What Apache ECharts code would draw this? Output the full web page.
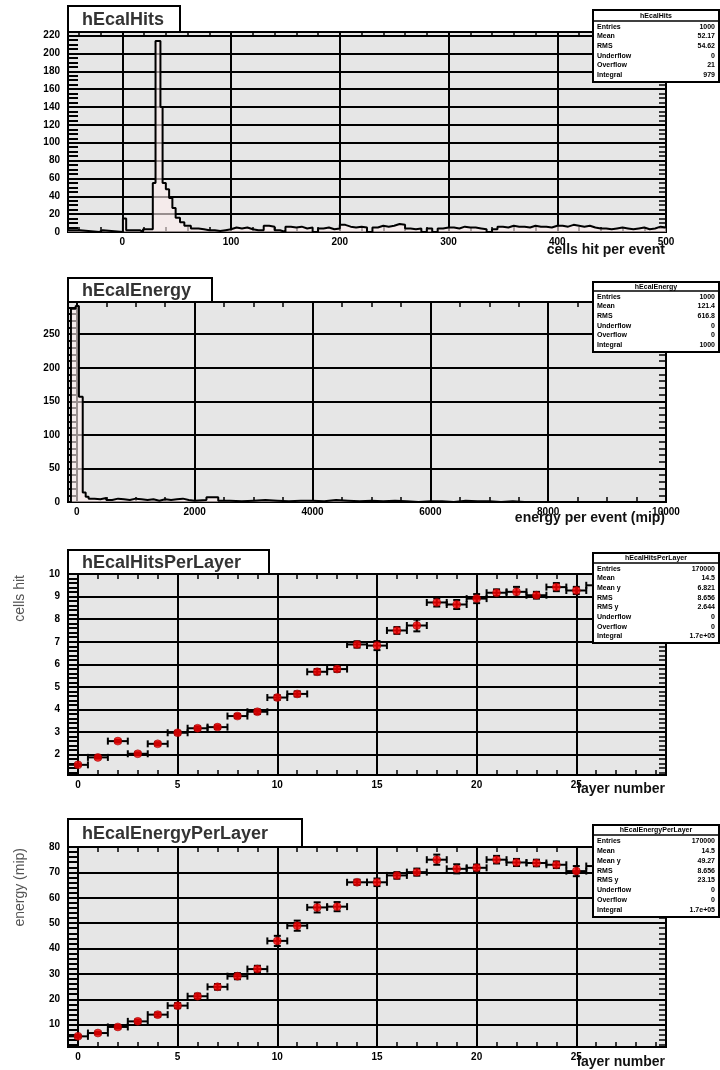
<!DOCTYPE html>
<html><head><meta charset="utf-8">
<script src="https://cdn.jsdelivr.net/npm/echarts@6/dist/echarts.min.js"></script>
<style>html,body{margin:0;padding:0;background:#fff}#c{width:720px;height:1070px}</style>
</head><body><div id="c"></div><script>
// ---------- DATA ----------
// Panel 1: hEcalHits (irregular head bins, regular tail bins)
const hitsHeadEdges  = [-50,-39,-21,-18,0.5,3.5,16,19,28,30.5,35,37,40,43,46,49,53,57,63,70];
const hitsHeadCounts = [2,0,2,0,15,2,0,3,55,214,140,55,48,38,27,16,11,7,4];
const hitsTailStart = 70, hitsTailWidth = 5;
const hitsTailCounts = [3,2,2,1, 2,3,5,4,5,3,2,2, 7,6,2,0, 6,5,6,4,5,0,4,5,3,4, 8,6,5,6, 5,0,5,7,6,7,9,8,
  4,3,4,0,4,0,4,5, 5,4,6,5,5,4,3,0, 3,6,5,7,6,6,5,7,6,6,5,7, 7,6,8,7,6,7,5,4, 4,3,4,5,4,3,4,5,3,4,6,5];
const hitsXTicks = [0,100,200,300,400,500];
const hitsYTicks = [0,20,40,60,80,100,120,140,160,180,200,220];

// Panel 2: hEcalEnergy
const energyHeadEdges  = [-150,-100,-20,35,100,150,200];
const energyHeadCounts = [0,288,292,157,14,8];
const energyTail1 = {start:200,  width:100,  counts:[5,4,6,3,5,4,3,5,4,3,4,2,4,3,4,5,3,2]};
const energyTail2 = {start:2000, width:200,  counts:[3,7,2,1,2,3,2,1,2,2,1,3,2,1,2]};
const energyTail3 = {start:5000, width:200,  counts:[1,2,1,0,1,1,0,2,1,1,0,1,0]};
const energyTail4 = {start:7600, width:2400, counts:[0]};
const energyXTicks = [0,2000,4000,6000,8000,10000];
const energyYTicks = [0,50,100,150,200,250];

// Panels 3/4: per layer
const layers = [0,1,2,3,4,5,6,7,8,9,10,11,12,13,14,15,16,17,18,19,20,21,22,23,24,25,26,27,28,29];
const hitsPerLayer    = [1.55,1.88,2.6,2.04,2.48,2.97,3.17,3.22,3.71,3.9,4.53,4.69,5.67,5.79,6.88,6.83,7.5,7.72,8.74,8.65,8.91,9.17,9.21,9.06,9.42,9.27,9.5,9.35,9.5,9.45];
const hitsPerLayerErr = [0.05,0.05,0.06,0.06,0.07,0.08,0.08,0.08,0.09,0.1,0.1,0.11,0.12,0.12,0.14,0.2,0.15,0.26,0.18,0.2,0.2,0.15,0.22,0.15,0.18,0.16,0.2,0.2,0.2,0.2];
const energyPerLayer    = [5.4,6.7,9.1,11.3,13.95,17.5,21.2,24.9,29.1,31.9,43,49,56.2,56.5,66.1,66.1,68.8,70.1,75,71.4,71.8,75,73.9,73.7,73,70.5,72.5,71,72.5,71.5];
const energyPerLayerErr = [0.5,0.5,0.6,0.7,0.8,1.0,1.0,1.1,1.2,1.3,2.0,2.0,2.0,1.8,1.0,1.5,1.3,1.4,2.0,1.8,1.3,1.5,1.4,1.3,1.3,2.0,1.3,1.3,1.3,1.3];
const layerXTicks = [0,5,10,15,20,25];
const layerHitsYTicks = [2,3,4,5,6,7,8,9,10];
const layerEnergyYTicks = [10,20,30,40,50,60,70,80];

// Stats boxes
const statsLabels1 = ['Entries','Mean','RMS','Underflow','Overflow','Integral'];
const statsLabels2 = ['Entries','Mean','Mean y','RMS','RMS y','Underflow','Overflow','Integral'];
const statsHits = ['1000','52.17','54.62','0','21','979'];
const statsEnergy = ['1000','121.4','616.8','0','0','1000'];
const statsHitsPL = ['170000','14.5','6.821','8.656','2.644','0','0','1.7e+05'];
const statsEnergyPL = ['170000','14.5','49.27','8.656','23.15','0','0','1.7e+05'];

// ---------- BUILD ----------
function histPoints(edges, counts) {
  const pts = [];
  for (let i = 0; i < counts.length; i++) pts.push([edges[i], counts[i]]);
  pts.push([edges[counts.length], counts[counts.length - 1]]);
  return pts;
}
function appendSeg(edges, counts, seg) {
  edges.pop();
  for (let i = 0; i < seg.counts.length; i++) { edges.push(seg.start + i * seg.width); counts.push(seg.counts[i]); }
  edges.push(seg.start + seg.counts.length * seg.width);
}
const hE = hitsHeadEdges.slice(), hC = hitsHeadCounts.slice();
appendSeg(hE, hC, {start: hitsTailStart, width: hitsTailWidth, counts: hitsTailCounts});
const eE = energyHeadEdges.slice(), eC = energyHeadCounts.slice();
[energyTail1, energyTail2, energyTail3, energyTail4].forEach(s => appendSeg(eE, eC, s));

function steps(a, b, st) { const r = []; for (let v = a; v <= b + 1e-9; v += st) r.push(Math.round(v * 1000) / 1000); return r; }

const FONT = 'Liberation Sans';
const AX = {color: '#000', width: 2};
const TK = {color: '#000', width: 1.5};
const LBL = {color: '#000', fontSize: 10, fontWeight: 'bold', fontFamily: FONT, formatter: v => String(v)};
const xAxes = [], yAxes = [];
function addX(g, min, max, majors, minors) {
  xAxes.push({gridIndex: g, type: 'value', min, max, position: 'bottom',
    axisLine: {show: true, onZero: false, lineStyle: AX},
    axisTick: {show: true, inside: true, length: 10, customValues: majors, lineStyle: AX},
    axisLabel: Object.assign({show: true, customValues: majors, margin: 5}, LBL),
    splitLine: {show: true, lineStyle: {color: '#000', width: 2}}});
  xAxes.push({gridIndex: g, type: 'value', min, max, position: 'bottom',
    axisLine: {show: false, onZero: false},
    axisTick: {show: true, inside: true, length: 5, customValues: minors, lineStyle: TK},
    axisLabel: {show: false}, splitLine: {show: false}});
  xAxes.push({gridIndex: g, type: 'value', min, max, position: 'top',
    axisLine: {show: true, onZero: false, lineStyle: AX},
    axisTick: {show: true, inside: true, length: 5, customValues: minors.concat(majors), lineStyle: TK},
    axisLabel: {show: false}, splitLine: {show: false}});
}
function addY(g, min, max, majors, minors) {
  yAxes.push({gridIndex: g, type: 'value', min, max, position: 'left',
    axisLine: {show: true, onZero: false, lineStyle: AX},
    axisTick: {show: true, inside: true, length: 12, customValues: majors, lineStyle: AX},
    axisLabel: Object.assign({show: true, customValues: majors, margin: 8}, LBL),
    splitLine: {show: true, lineStyle: {color: '#000', width: 2}}});
  yAxes.push({gridIndex: g, type: 'value', min, max, position: 'left',
    axisLine: {show: false, onZero: false},
    axisTick: {show: true, inside: true, length: 10, customValues: minors, lineStyle: AX},
    axisLabel: {show: false}, splitLine: {show: false}});
  yAxes.push({gridIndex: g, type: 'value', min, max, position: 'right',
    axisLine: {show: true, onZero: false, lineStyle: AX},
    axisTick: {show: true, inside: true, length: 7, customValues: minors.concat(majors), lineStyle: TK},
    axisLabel: {show: false}, splitLine: {show: false}});
}
addX(0, -50, 500, hitsXTicks, steps(-40, 500, 20));
addY(0, 0, 224, hitsYTicks, steps(0, 224, 5));
addX(1, -150, 10000, energyXTicks, steps(0, 10000, 500));
addY(1, 0, 298, energyYTicks, steps(0, 298, 10));
addX(2, -0.5, 29.5, layerXTicks, steps(0, 29, 1));
addY(2, 1.1, 10, layerHitsYTicks, steps(1.2, 10, 0.2));
addX(3, -0.5, 29.5, layerXTicks, steps(0, 29, 1));
addY(3, 1.2, 80, layerEnergyYTicks, steps(2, 80, 2));

const gridBase = {left: 68, width: 598, show: true, backgroundColor: '#e6e6e6', borderColor: '#000', borderWidth: 2};
const grids = [
  Object.assign({top: 32, height: 200}, gridBase),
  Object.assign({top: 302, height: 200}, gridBase),
  Object.assign({top: 574, height: 201}, gridBase),
  Object.assign({top: 847, height: 200}, gridBase)
];

function errRender(params, api) {
  const x = api.value(0), y = api.value(1), ex = api.value(2), ey = api.value(3);
  const L = api.coord([x - ex, y]), R = api.coord([x + ex, y]);
  const T = api.coord([x, y + ey]), B = api.coord([x, y - ey]);
  const c = 3.5, st = {stroke: '#000', lineWidth: 2};
  const ln = (x1, y1, x2, y2) => ({type: 'line', shape: {x1, y1, x2, y2}, style: st});
  return {type: 'group', children: [
    ln(L[0], L[1], R[0], R[1]), ln(L[0], L[1] - c, L[0], L[1] + c), ln(R[0], R[1] - c, R[0], R[1] + c),
    ln(T[0], T[1], B[0], B[1]), ln(T[0] - c, T[1], T[0] + c, T[1]), ln(B[0] - c, B[1], B[0] + c, B[1])
  ]};
}
function layerSeries(g, vals, errs) {
  return [
    {type: 'custom', xAxisIndex: 3 * g, yAxisIndex: 3 * g, z: 2, clip: true,
     dimensions: ['x', 'y', 'ex', 'ey'], encode: {x: 0, y: 1},
     data: layers.map((l, i) => [l, vals[i], 0.5, errs[i]]), renderItem: errRender},
    {type: 'scatter', xAxisIndex: 3 * g, yAxisIndex: 3 * g, z: 3, symbol: 'circle', symbolSize: 8,
     itemStyle: {color: '#ff0000', borderColor: '#8a0000', borderWidth: 0.6},
     data: layers.map((l, i) => [l, vals[i]])}
  ];
}
function histSeries(g, pts) {
  return {type: 'line', xAxisIndex: 3 * g, yAxisIndex: 3 * g, step: 'end', symbol: 'none', z: 2, clip: true,
    lineStyle: {color: '#000', width: 2}, areaStyle: {color: 'rgba(255,238,238,0.85)'}, data: pts};
}

// ---------- GRAPHICS (titles, stats, axis titles) ----------
const G = [];
function rect(x, y, w, h) { G.push({type: 'rect', z: 100, shape: {x, y, width: w, height: h}, style: {fill: '#fff', stroke: '#000', lineWidth: 2}}); }
function txt(x, y, t, font, align, fill, rot) {
  G.push({type: 'text', z: 101, x, y, rotation: rot || 0,
    style: {text: t, x: 0, y: 0, font, align, verticalAlign: 'middle', fill}});
}
function hline(x1, y, x2) { G.push({type: 'line', z: 101, shape: {x1, y1: y, x2, y2: y}, style: {stroke: '#000', lineWidth: 1.5}}); }
function titleBox(x, y, w, h, t) { rect(x, y, w, h); txt(x + 14, y + h / 2 + 1, t, 'bold 18px "' + FONT + '"', 'left', '#333'); }
function statsBox(x, y, w, h, hh, title, labels, values) {
  rect(x, y, w, h); hline(x, y + hh, x + w);
  txt(x + w / 2, y + hh / 2 + 0.5, title, 'bold 7px "' + FONT + '"', 'center', '#000');
  const top = y + hh + 1, step = (h - hh - 3) / labels.length;
  labels.forEach((lab, i) => {
    const yy = top + step * (i + 0.5);
    txt(x + 4, yy, lab, 'bold 7px "' + FONT + '"', 'left', '#000');
    txt(x + w - 4, yy, values[i], 'bold 7px "' + FONT + '"', 'right', '#000');
  });
}
titleBox(68, 6, 112, 26, 'hEcalHits');
titleBox(68, 278, 144, 24, 'hEcalEnergy');
titleBox(68, 550, 201, 24, 'hEcalHitsPerLayer');
titleBox(68, 819, 234, 28, 'hEcalEnergyPerLayer');
statsBox(593, 10, 126, 72, 11, 'hEcalHits', statsLabels1, statsHits);
statsBox(593, 282, 126, 70, 9, 'hEcalEnergy', statsLabels1, statsEnergy);
statsBox(593, 553, 126, 90, 10, 'hEcalHitsPerLayer', statsLabels2, statsHitsPL);
statsBox(593, 825, 126, 92, 10, 'hEcalEnergyPerLayer', statsLabels2, statsEnergyPL);
const xtFont = 'bold 14px "' + FONT + '"';
txt(665, 250, 'cells hit per event', xtFont, 'right', '#111');
txt(665, 518, 'energy per event (mip)', xtFont, 'right', '#111');
txt(665, 789, 'layer number', xtFont, 'right', '#111');
txt(665, 1062, 'layer number', xtFont, 'right', '#111');
const ytFont = '14px "' + FONT + '"';
txt(20, 575, 'cells hit', ytFont, 'right', '#555', Math.PI / 2);
txt(20, 848, 'energy (mip)', ytFont, 'right', '#555', Math.PI / 2);

const chart = echarts.init(document.getElementById('c'), null, {renderer: 'canvas'});
chart.setOption({
  animation: false,
  backgroundColor: '#fff',
  grid: grids,
  xAxis: xAxes,
  yAxis: yAxes,
  series: [histSeries(0, histPoints(hE, hC)), histSeries(1, histPoints(eE, eC))]
    .concat(layerSeries(2, hitsPerLayer, hitsPerLayerErr))
    .concat(layerSeries(3, energyPerLayer, energyPerLayerErr)),
  graphic: G
});
</script></body></html>
